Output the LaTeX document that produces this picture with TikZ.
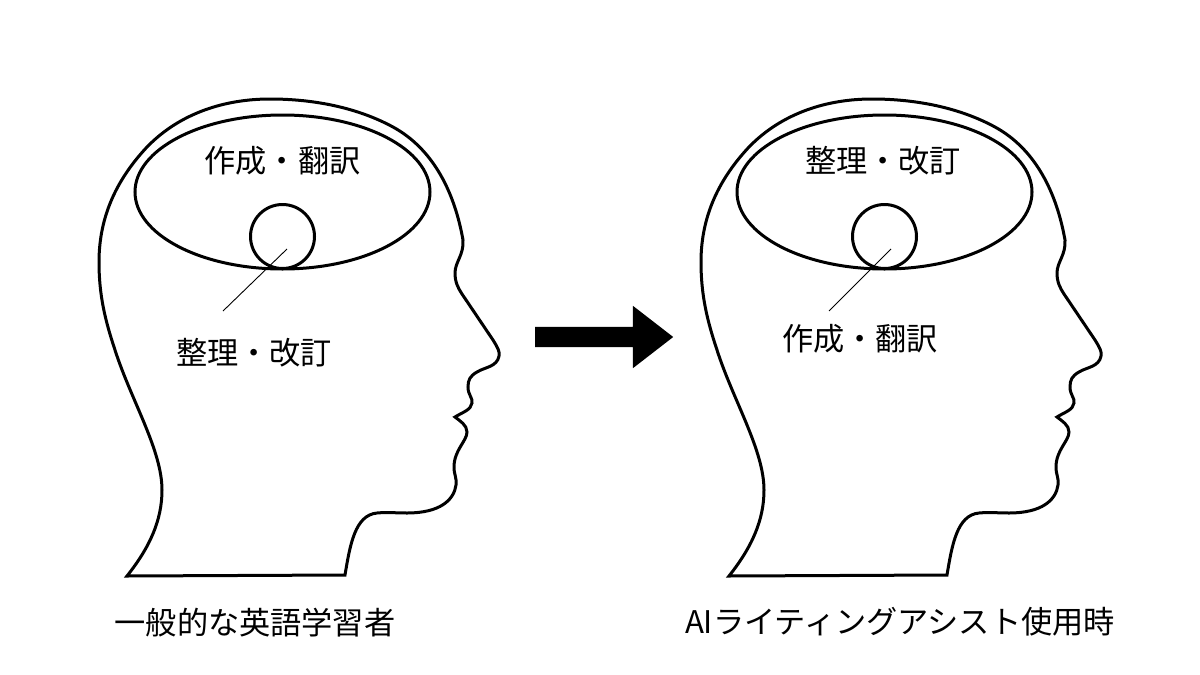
\documentclass[tikz,border=0pt]{standalone}
\usepackage{fontspec}
\setmainfont{Noto Sans CJK JP}
\usetikzlibrary{shapes}
\tikzset{
  outline/.style={line width=3pt,line join=miter},
  brain/.style={ellipse,draw,line width=3pt,minimum width=295pt,minimum height=154pt,inner sep=0pt},
  focus/.style={circle,draw,line width=3pt,minimum size=64pt,inner sep=0pt},
  label/.style={font=\fontsize{31.2pt}{36pt}\selectfont,inner sep=0pt},
  leader/.style={line width=0.9pt},
  pics/headshape/.style={code={
    \draw[outline] (127,576)
      % neck and back of the head
      .. controls (150,547) and (162,520) .. (162,490)
      .. controls (162,450) and (131,400) .. (115,350)
      .. controls (105,320) and (99,295) .. (99,262)
      % skull
      .. controls (99,215) and (118,178) .. (147,147)
      .. controls (180,113) and (225,99) .. (270,99)
      .. controls (315,99) and (358,108) .. (393,127)
      .. controls (435,150) and (455,195) .. (463,240)
      % forehead and nose
      .. controls (464,255) and (455,262) .. (455,273)
      .. controls (455,282) and (458,288) .. (462,294)
      -- (493,340)
      .. controls (498,348) and (500,352) .. (499,356)
      .. controls (497,367) and (485,367) .. (477,372)
      .. controls (470,376) and (468,380) .. (468,387)
      .. controls (468,395) and (473,398) .. (472,403)
      .. controls (471,410) and (463,412) .. (455,417)
      % chin and throat
      .. controls (460,421) and (467,425) .. (467,432)
      .. controls (467,441) and (454,450) .. (454,467)
      .. controls (454,475) and (457,478) .. (456,485)
      .. controls (454,500) and (440,513) .. (407,513)
      .. controls (395,513) and (388,512) .. (377,513)
      .. controls (355,515) and (350,545) .. (345,575)
      -- cycle;
  }}
}
\begin{document}
\begin{tikzpicture}[x=1pt,y=-1pt]
  \useasboundingbox (0,0) rectangle (1200,675);
  % left head
  \pic at (0,0) {headshape};
  \node[brain] (leftbrain) at (282.5,192) {};
  \node[focus] (leftfocus) at (282.5,236.5) {};
  \node[label] (leftupper) at (282.5,161) {作成・翻訳};
  \node[label] (leftlower) at (254,353) {整理・改訂};
  \node[label] (leftcaption) at (255,623) {一般的な英語学習者};
  \coordinate (leftstart) at (287,249);
  \coordinate (leftend) at (223,311);
  \draw[leader] (leftstart) -- (leftend);
  % right head
  \pic at (602,0) {headshape};
  \node[brain] (rightbrain) at (884.5,192) {};
  \node[focus] (rightfocus) at (884.5,236.5) {};
  \node[label] (rightupper) at (883,161) {整理・改訂};
  \node[label] (rightlower) at (860,339) {作成・翻訳};
  \node[label] (rightcaption) at (900,622) {AIライティングアシスト使用時};
  \coordinate (rightstart) at (891,249);
  \coordinate (rightend) at (829,311);
  \draw[leader] (rightstart) -- (rightend);
  % arrow between the heads
  \node[single arrow,fill=black,anchor=tail,inner xsep=0pt,inner ysep=10pt,minimum height=138pt,
    single arrow head extend=21pt,single arrow tip angle=75.5,single arrow head indent=0pt] (change) at (535,337) {};
\end{tikzpicture}
\end{document}
